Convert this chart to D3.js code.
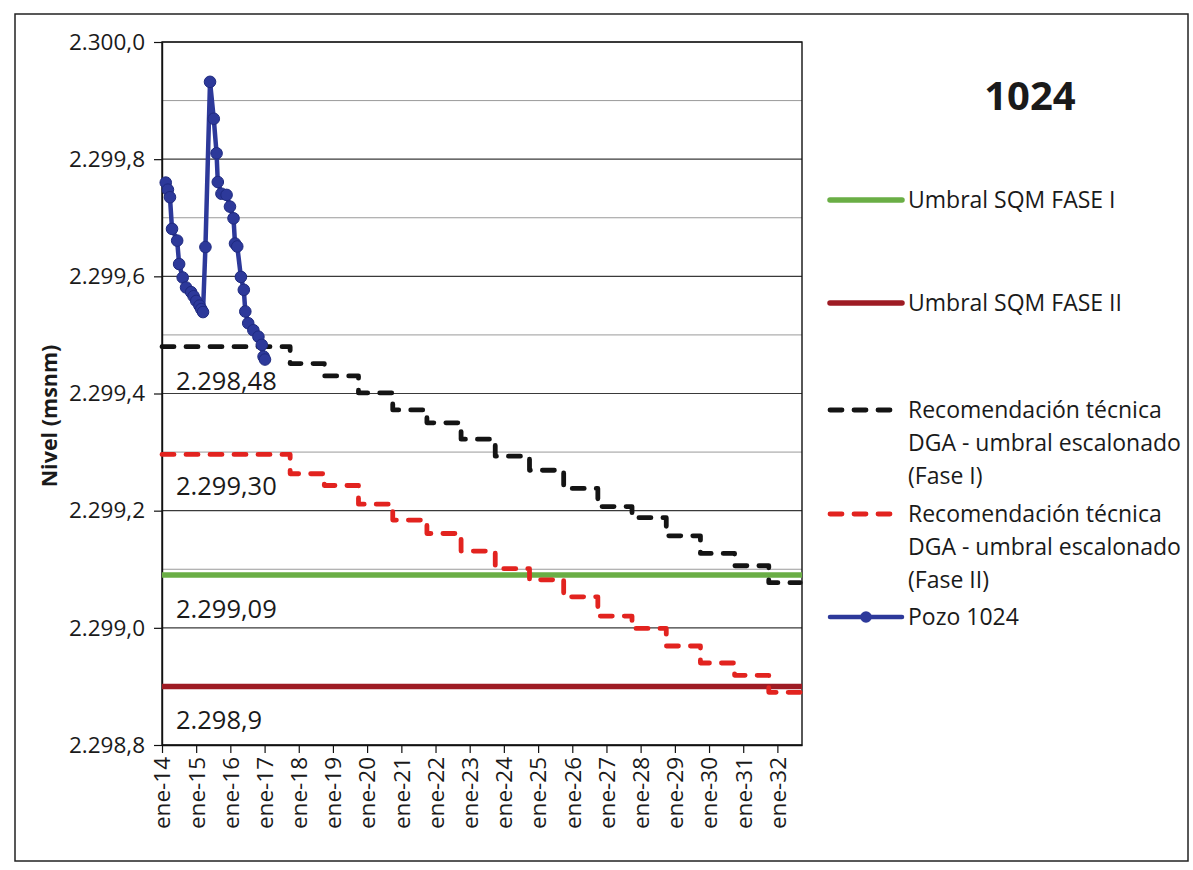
<!DOCTYPE html>
<html><head><meta charset="utf-8">
<script src="https://cdn.jsdelivr.net/npm/d3@7"></script>
<style>
body{margin:0;background:#fff}
svg{display:block}
text{font-family:'Open Sans','Noto Sans',sans-serif;fill:#1a1a1a}
</style>
</head><body>
<svg id="c" width="1193" height="870"></svg>
<script>
// ---------------- data ----------------
const chartTitle = "1024";
const yAxisTitle = "Nivel (msnm)";

const yTicks = [2298.8, 2299.0, 2299.2, 2299.4, 2299.6, 2299.8, 2300.0];
const yTickLabels = ["2.298,8", "2.299,0", "2.299,2", "2.299,4", "2.299,6", "2.299,8", "2.300,0"];
const yMinorTicks = [2298.9, 2299.1, 2299.3, 2299.5, 2299.7, 2299.9];

const xTickDates = ["2014-01-01","2015-01-01","2016-01-01","2017-01-01","2018-01-01","2019-01-01","2020-01-01",
  "2021-01-01","2022-01-01","2023-01-01","2024-01-01","2025-01-01","2026-01-01","2027-01-01","2028-01-01",
  "2029-01-01","2030-01-01","2031-01-01","2032-01-01"];
const xTickLabels = ["ene-14","ene-15","ene-16","ene-17","ene-18","ene-19","ene-20","ene-21","ene-22","ene-23",
  "ene-24","ene-25","ene-26","ene-27","ene-28","ene-29","ene-30","ene-31","ene-32"];
const xDomain = ["2014-01-01", "2032-09-20"];

// Pozo 1024 measured level
const pozoDates = ["2014-02-10","2014-03-05","2014-03-27","2014-04-18","2014-06-12","2014-07-03","2014-08-10",
  "2014-09-15","2014-11-08","2014-12-05","2015-01-02","2015-02-05","2015-02-25","2015-03-15","2015-04-10",
  "2015-05-29","2015-07-08","2015-08-07","2015-08-20","2015-09-28","2015-11-22","2015-12-28","2016-02-04",
  "2016-02-20","2016-03-15","2016-04-23","2016-05-24","2016-06-09","2016-07-10","2016-09-03","2016-10-27",
  "2016-12-02","2016-12-21","2017-01-05"];
const pozoValues = [2299.760, 2299.748, 2299.735, 2299.681, 2299.661, 2299.621, 2299.598,
  2299.581, 2299.573, 2299.566, 2299.558, 2299.550, 2299.544, 2299.539, 2299.650,
  2299.932, 2299.869, 2299.810, 2299.761, 2299.741, 2299.739, 2299.719, 2299.699,
  2299.656, 2299.651, 2299.599, 2299.577, 2299.540, 2299.520, 2299.508, 2299.497,
  2299.483, 2299.463, 2299.458];

// Stepped thresholds (DGA recommendation)
const stepDates = ["2014-01-01","2017-10-01","2018-10-01","2019-10-01","2020-10-01","2021-10-01","2022-10-01",
  "2023-10-01","2024-10-01","2025-10-01","2026-10-01","2027-10-01","2028-10-01","2029-10-01","2030-10-01",
  "2031-10-01","2032-09-01"];
const faseIStepValues = [2299.480, 2299.451, 2299.430, 2299.401, 2299.372, 2299.350, 2299.322, 2299.293,
  2299.269, 2299.238, 2299.207, 2299.188, 2299.157, 2299.127, 2299.106, 2299.077, 2299.077];
const faseIIStepValues = [2299.296, 2299.263, 2299.243, 2299.211, 2299.184, 2299.161, 2299.131, 2299.101,
  2299.082, 2299.053, 2299.020, 2298.999, 2298.969, 2298.940, 2298.919, 2298.890, 2298.890];

// SQM thresholds
const umbralDates = ["2014-01-01", "2032-09-20"];
const umbralFaseIValues = [2299.09, 2299.09];
const umbralFaseIIValues = [2298.90, 2298.90];

// annotations
const annotationTexts = ["2.298,48", "2.299,30", "2.299,09", "2.298,9"];
const annotationValues = [2299.48, 2299.30, 2299.09, 2298.90];

const legendLabels = [
  ["Umbral SQM FASE I"],
  ["Umbral SQM FASE II"],
  ["Recomendación técnica", "DGA - umbral escalonado", "(Fase I)"],
  ["Recomendación técnica", "DGA - umbral escalonado", "(Fase II)"],
  ["Pozo 1024"]
];

// ---------------- drawing ----------------
const parse = d3.timeParse("%Y-%m-%d");
const svg = d3.select("#c");
const plot = {left: 162, right: 802, top: 42, bottom: 745};

const C = {
  green: "#6aae45",
  darkred: "#9e1b24",
  red: "#e2231f",
  black: "#141414",
  blue: "#2d399a"
};

// outer frame
svg.append("rect").attr("x", 15).attr("y", 14).attr("width", 1173).attr("height", 847)
  .attr("fill", "none").attr("stroke", "#222").attr("stroke-width", 1.5);

const x = d3.scaleTime().domain(xDomain.map(parse)).range([plot.left, plot.right]);
const y = d3.scaleLinear().domain([yTicks[0], yTicks[yTicks.length - 1]]).range([plot.bottom, plot.top]);

// gridlines
const grid = svg.append("g");
grid.selectAll(".minor").data(yMinorTicks).join("line")
  .attr("x1", plot.left).attr("x2", plot.right)
  .attr("y1", d => y(d)).attr("y2", d => y(d))
  .attr("stroke", "#9a9a9a").attr("stroke-width", 1);
grid.selectAll(".major").data(yTicks).join("line")
  .attr("x1", plot.left).attr("x2", plot.right)
  .attr("y1", d => y(d)).attr("y2", d => y(d))
  .attr("stroke", "#3a3a3a").attr("stroke-width", 1.2);

// plot border
svg.append("rect").attr("x", plot.left).attr("y", plot.top)
  .attr("width", plot.right - plot.left).attr("height", plot.bottom - plot.top)
  .attr("fill", "none").attr("stroke", "#111").attr("stroke-width", 1.4);

// axes
const yAxis = d3.axisLeft(y).tickValues(yTicks).tickFormat((d, i) => yTickLabels[i]).tickSize(8).tickSizeOuter(0);
const gy = svg.append("g").attr("transform", `translate(${plot.left},0)`).call(yAxis);
gy.select(".domain").attr("stroke", "#111").attr("stroke-width", 1.4);
gy.selectAll(".tick line").attr("stroke", "#111").attr("stroke-width", 1.2);
gy.selectAll(".tick text").attr("x", -17).attr("font-size", 22.5).attr("fill", "#1a1a1a")
  .style("font-family", "'Open Sans',sans-serif");

const xAxis = d3.axisBottom(x).tickValues(xTickDates.map(parse)).tickFormat((d, i) => xTickLabels[i]).tickSize(8).tickSizeOuter(0);
const gx = svg.append("g").attr("transform", `translate(0,${plot.bottom})`).call(xAxis);
gx.select(".domain").attr("stroke", "#111").attr("stroke-width", 1.4);
gx.selectAll(".tick line").attr("stroke", "#111").attr("stroke-width", 1.2);
gx.selectAll(".tick text")
  .attr("transform", "rotate(-90)")
  .attr("x", -12).attr("y", 0).attr("dy", "0.35em")
  .attr("text-anchor", "end")
  .attr("font-size", 22.5).attr("fill", "#1a1a1a")
  .style("font-family", "'Open Sans',sans-serif");

// y axis title
svg.append("text")
  .attr("transform", `translate(57,${416}) rotate(-90)`)
  .attr("text-anchor", "middle")
  .attr("font-size", 21.5).attr("font-weight", "bold")
  .text(yAxisTitle);

// series
const lineGen = d3.line().x(d => x(d[0])).y(d => y(d[1]));
const stepGen = d3.line().x(d => x(d[0])).y(d => y(d[1])).curve(d3.curveStepAfter);
const zip = (ds, vs) => ds.map((d, i) => [parse(d), vs[i]]);

const series = svg.append("g");
series.append("path").datum(zip(umbralDates, umbralFaseIValues)).attr("d", lineGen)
  .attr("fill", "none").attr("stroke", C.green).attr("stroke-width", 5.5);
series.append("path").datum(zip(umbralDates, umbralFaseIIValues)).attr("d", lineGen)
  .attr("fill", "none").attr("stroke", C.darkred).attr("stroke-width", 5.5);

series.append("path").datum(zip(stepDates, faseIStepValues)).attr("d", stepGen)
  .attr("fill", "none").attr("stroke", C.black).attr("stroke-width", 4.8)
  .attr("stroke-dasharray", "12,12").attr("stroke-linecap", "round").attr("stroke-linejoin", "round");
series.append("path").datum(zip(stepDates, faseIIStepValues)).attr("d", stepGen)
  .attr("fill", "none").attr("stroke", C.red).attr("stroke-width", 4.8)
  .attr("stroke-dasharray", "12,12").attr("stroke-linecap", "round").attr("stroke-linejoin", "round");

const pozo = zip(pozoDates, pozoValues);
series.append("path").datum(pozo).attr("d", lineGen)
  .attr("fill", "none").attr("stroke", C.blue).attr("stroke-width", 4.5).attr("stroke-linejoin", "round");
series.selectAll(".pt").data(pozo).join("circle")
  .attr("cx", d => x(d[0])).attr("cy", d => y(d[1])).attr("r", 5.8)
  .attr("fill", C.blue).attr("stroke", "#1f2a80").attr("stroke-width", 1);

// annotations
svg.selectAll(".ann").data(annotationTexts).join("text")
  .attr("x", plot.left + 14)
  .attr("y", (d, i) => y(annotationValues[i]) + 43)
  .attr("font-size", 25.5)
  .text(d => d);

// title
svg.append("text").attr("x", 1030).attr("y", 110).attr("text-anchor", "middle")
  .attr("font-size", 40).attr("font-weight", "bold").text(chartTitle);

// legend
const legendRowsY = [200, 303, 410, 514, 617];
const legend = svg.append("g");
const lx1 = 830, lx2 = 902, ltx = 908;
const styles = [
  {stroke: C.green, w: 5.5},
  {stroke: C.darkred, w: 5.5},
  {stroke: C.black, w: 4.8, dash: "12,12"},
  {stroke: C.red, w: 4.8, dash: "12,12"},
  {stroke: C.blue, w: 4.5, marker: true}
];
legendLabels.forEach((lines, i) => {
  const yy = legendRowsY[i];
  const st = styles[i];
  const ln = legend.append("line").attr("x1", lx1).attr("x2", lx2 - (st.dash ? 6 : 0)).attr("y1", yy).attr("y2", yy)
    .attr("stroke", st.stroke).attr("stroke-width", st.w).attr("stroke-linecap", "round");
  if (st.dash) ln.attr("stroke-dasharray", st.dash);
  if (st.marker) legend.append("circle").attr("cx", (lx1 + lx2) / 2).attr("cy", yy).attr("r", 5.8).attr("fill", C.blue);
  lines.forEach((t, j) => {
    legend.append("text").attr("x", ltx).attr("y", yy + 8 + j * 33)
      .attr("font-size", 23).text(t);
  });
});
</script>
</body></html>
